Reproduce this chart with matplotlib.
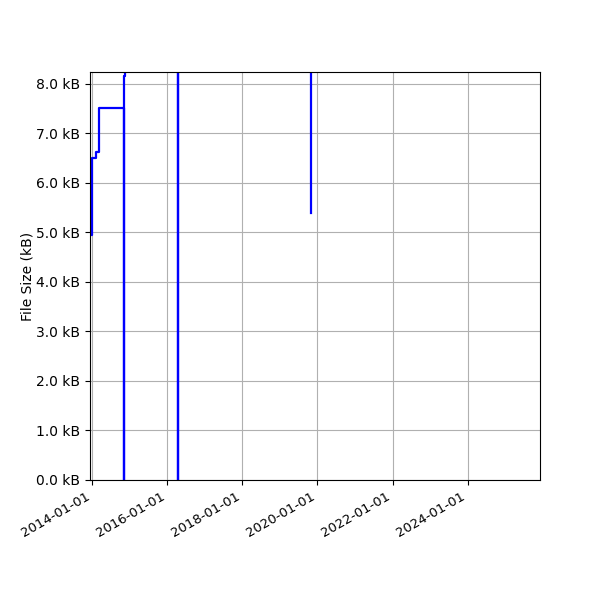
import datetime as dt
import matplotlib
matplotlib.use("Agg")
import matplotlib.pyplot as plt
import matplotlib.dates as mdates
from matplotlib.ticker import FuncFormatter

# file size history (kB); values above the view are clipped by the axis
dates = [
    "2013-12-26", "2013-12-28", "2014-02-06", "2014-03-13", "2014-11-04",
    "2014-11-07", "2014-11-17", "2016-04-13", "2016-04-16", "2016-04-20",
    "2019-10-29", "2019-10-31",
]
sizes_kb = [4.95, 6.50, 6.62, 7.51, 0.0, 8.15, 9.5, 9.5, 0.0, 9.5, 9.5, 5.4]

x = [dt.datetime.strptime(d, "%Y-%m-%d") for d in dates]

fig, ax = plt.subplots(figsize=(6, 6), dpi=100)
ax.plot(x, sizes_kb, color="b", linewidth=1.6, drawstyle="steps-post")

ax.set_xlim(dt.datetime(2013, 12, 13), dt.datetime(2025, 12, 5))
ax.set_ylim(0, 8.24)
ax.set_yticks([i * 1.0 for i in range(9)])
ax.yaxis.set_major_formatter(FuncFormatter(lambda v, p: f"{v:.1f} kB"))
ax.xaxis.set_major_locator(mdates.YearLocator(2))
ax.xaxis.set_major_formatter(mdates.DateFormatter("%Y-%m-%d"))
ax.set_ylabel("File Size (kB)", labelpad=1)
ax.grid(True)
ax.tick_params(axis="x", labelsize=9.5)

fig.subplots_adjust(left=0.15, right=0.9, top=0.88, bottom=0.2)
fig.autofmt_xdate()
fig.savefig("out.png", dpi=100)
